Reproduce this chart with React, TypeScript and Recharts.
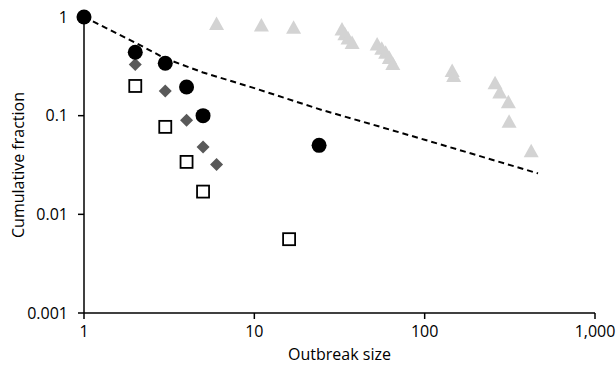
import React from "react"
import { ScatterChart, Scatter, XAxis, YAxis } from "recharts"

// (outbreak size vs cumulative fraction)
const circles = [
  { x: 1, y: 1 }, { x: 2, y: 0.44 }, { x: 3, y: 0.34 }, { x: 4, y: 0.195 },
  { x: 5, y: 0.1 }, { x: 24, y: 0.05 },
]
const diamonds = [
  { x: 1, y: 1 }, { x: 2, y: 0.33 }, { x: 3, y: 0.178 }, { x: 4, y: 0.09 },
  { x: 5, y: 0.048 }, { x: 6, y: 0.032 },
]
const squares = [
  { x: 2, y: 0.2 }, { x: 3, y: 0.077 }, { x: 4, y: 0.034 },
  { x: 5, y: 0.017 }, { x: 16, y: 0.0056 },
]
const triangles = [
  { x: 6, y: 0.84 }, { x: 11, y: 0.81 }, { x: 17, y: 0.77 },
  { x: 32.7, y: 0.74 }, { x: 34, y: 0.66 }, { x: 35.5, y: 0.6 }, { x: 37.5, y: 0.54 },
  { x: 52.6, y: 0.52 }, { x: 56, y: 0.47 }, { x: 59, y: 0.43 }, { x: 62, y: 0.38 }, { x: 65, y: 0.33 },
  { x: 145, y: 0.28 }, { x: 148, y: 0.25 },
  { x: 259, y: 0.21 }, { x: 276, y: 0.17 }, { x: 310, y: 0.135 }, { x: 313, y: 0.086 },
  { x: 422, y: 0.043 },
]
const fitted = [
  { x: 1, y: 1 }, { x: 2, y: 0.55 }, { x: 3, y: 0.38 }, { x: 5, y: 0.274 },
  { x: 10, y: 0.19 }, { x: 25, y: 0.114 }, { x: 55, y: 0.077 }, { x: 100, y: 0.057 },
  { x: 200, y: 0.04 }, { x: 463, y: 0.026 },
]
const xTicks = [1, 10, 100, 1000]
const yTicks = [0.001, 0.01, 0.1, 1]

const FONT = "'Open Sans', sans-serif"

const Circle = (p: any) => <circle cx={p.cx} cy={p.cy} r={7.5} fill="#000" />
const Diamond = (p: any) => (
  <polygon
    points={`${p.cx},${p.cy - 6.5} ${p.cx + 6.5},${p.cy} ${p.cx},${p.cy + 6.5} ${p.cx - 6.5},${p.cy}`}
    fill="#595959"
  />
)
const Square = (p: any) => (
  <rect x={p.cx - 6} y={p.cy - 6} width={12} height={12} fill="#fff" stroke="#000" strokeWidth={1.8} />
)
const Triangle = (p: any) => (
  <polygon
    points={`${p.cx},${p.cy - 8} ${p.cx + 7.5},${p.cy + 5.5} ${p.cx - 7.5},${p.cy + 5.5}`}
    fill="#d3d3d3"
  />
)
const NoDot = () => <g />

export default function App() {
  return (
    <div style={{ position: "absolute", left: 0, top: 0, background: "#fff" }}>
      <ScatterChart width={616} height={367} margin={{ top: 17, right: 21, bottom: 0, left: 0 }}>
        <XAxis
          dataKey="x"
          type="number"
          scale="log"
          domain={[1, 1000]}
          ticks={xTicks}
          tickFormatter={(v: number) => v.toLocaleString("en-US")}
          stroke="#000"
          strokeWidth={1.5}
          tickSize={6}
          tickMargin={7}
          height={54}
          tick={{ fill: "#000", fontSize: 16, fontFamily: FONT }}
          label={{ value: "Outbreak size", position: "insideBottom", offset: 7, fill: "#000", fontSize: 16, fontFamily: FONT }}
        />
        <YAxis
          dataKey="y"
          type="number"
          scale="log"
          domain={[0.001, 1]}
          ticks={yTicks}
          tickFormatter={(v: number) => String(v)}
          stroke="#000"
          strokeWidth={1.5}
          tickSize={6}
          tickMargin={10}
          width={84}
          tick={{ fill: "#000", fontSize: 16, fontFamily: FONT }}
          label={{ value: "Cumulative fraction", angle: -90, position: "insideLeft", offset: 18, fill: "#000", fontSize: 16, fontFamily: FONT, style: { textAnchor: "middle" } }}
        />
        <Scatter data={triangles} shape={Triangle} isAnimationActive={false} />
        <Scatter data={squares} shape={Square} isAnimationActive={false} />
        <Scatter data={diamonds} shape={Diamond} isAnimationActive={false} />
        <Scatter
          data={fitted}
          shape={NoDot}
          line={{ stroke: "#000", strokeWidth: 2, strokeDasharray: "6 4" }}
          isAnimationActive={false}
        />
        <Scatter data={circles} shape={Circle} isAnimationActive={false} />
      </ScatterChart>
    </div>
  )
}
